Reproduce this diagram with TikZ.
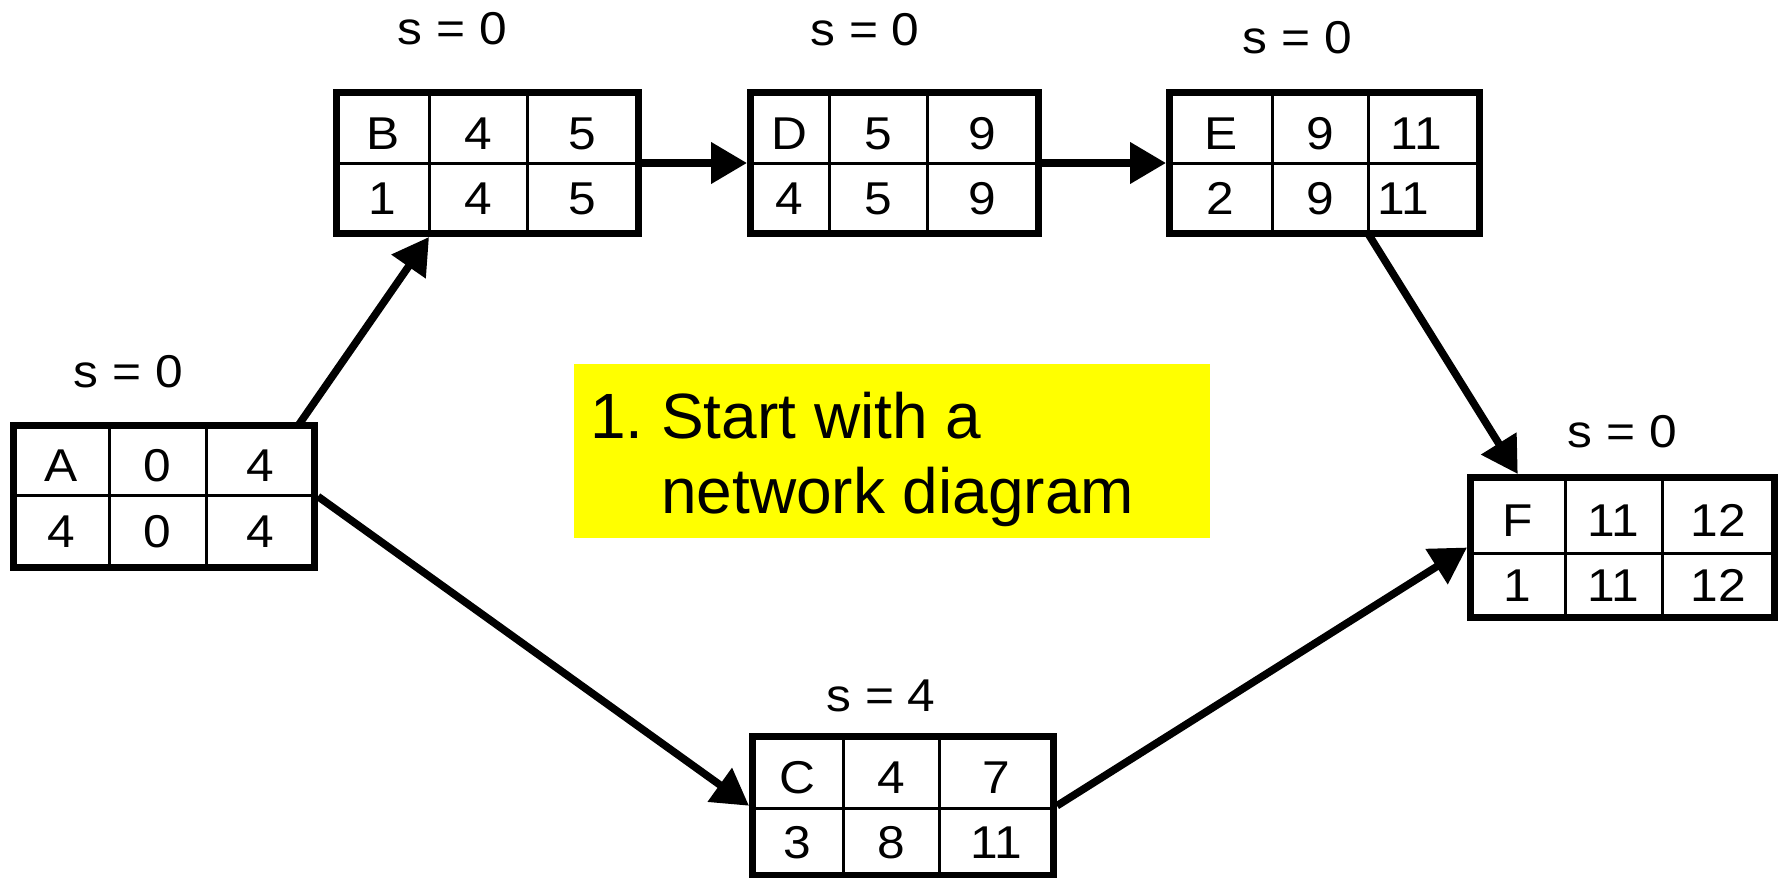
\documentclass[tikz,border=0pt]{standalone}
\usepackage{fontspec}
\setmainfont{Liberation Sans}
\newfontfamily\cellfont[FakeStretch=1.08]{Liberation Sans}
\usetikzlibrary{arrows.meta,positioning,fit}
\definecolor{noteyellow}{HTML}{FFFF00}

\newcommand{\taskbox}[9]{%
  \def\tn{#1}\def\xa{#2}\def\xb{#3}\def\xc{#4}\def\xd{#5}%
  \def\ya{#6}\def\yb{#7}\def\yc{#8}\taskcells#9}
\newcommand{\taskcells}[6]{%
  \pgfmathsetmacro\wa{(\xb-\xa)/2}\pgfmathsetmacro\wb{(\xc-\xb)/2}%
  \pgfmathsetmacro\wc{(\xd-\xc)/2}%
  \pgfmathsetmacro\ha{(\yb-\ya)/2}\pgfmathsetmacro\hb{(\yc-\yb)/2}%
  \node[cell,toprow,minimum width=\wa pt,minimum height=\ha pt] (\tn1) at ({(\xa+\xb)/2},{(\ya+\yb)/2}) {#1};
  \node[cell,toprow,minimum width=\wb pt,minimum height=\ha pt] (\tn2) at ({(\xb+\xc)/2},{(\ya+\yb)/2}) {#2};
  \node[cell,toprow,minimum width=\wc pt,minimum height=\ha pt] (\tn3) at ({(\xc+\xd)/2},{(\ya+\yb)/2}) {#3};
  \node[cell,minimum width=\wa pt,minimum height=\hb pt] (\tn4) at ({(\xa+\xb)/2},{(\yb+\yc)/2}) {#4};
  \node[cell,minimum width=\wb pt,minimum height=\hb pt] (\tn5) at ({(\xb+\xc)/2},{(\yb+\yc)/2}) {#5};
  \node[cell,minimum width=\wc pt,minimum height=\hb pt] (\tn6) at ({(\xc+\xd)/2},{(\yb+\yc)/2}) {#6};
  \node[frame,fit={(\xa,\ya)(\xd,\yc)}] (\tn) {};}

\begin{document}
\begin{tikzpicture}[x=0.5pt,y=-0.5pt,
  cell/.style={draw,line width=1.5pt,inner sep=0pt,outer sep=0pt,
               text height=16.5pt,text depth=0pt,
               font=\cellfont\fontsize{23}{27}\selectfont},
  toprow/.style={text height=21.5pt},
  frame/.style={draw,line width=3.5pt,inner sep=0pt},
  slack/.style={inner sep=0pt,font=\cellfont\fontsize{23}{27}\selectfont},
  arr/.style={-{Triangle[length=18pt,width=20pt]},line width=3.8pt},
  note/.style={fill=noteyellow,inner sep=0pt},
  notetext/.style={align=left,inner sep=0pt,font=\fontsize{32}{37.5}\selectfont}]
\useasboundingbox (0,0) rectangle (1785,878);
\taskbox{A}{13.5}{109}{206}{314.5}{425.5}{495}{567.5}{{A}{0}{4}{4}{0}{4}}
\taskbox{B}{336.5}{429}{527}{638.5}{92.5}{163}{233.5}{{B}{4}{5}{1}{4}{5}}
\taskbox{D}{750.5}{829}{927}{1038.5}{92.5}{163}{233.5}{{D}{5}{9}{4}{5}{9}}
\taskbox{E}{1169.5}{1272}{1368}{1479.5}{92.5}{163}{233.5}{{E}{9}{11\kern7pt}{2}{9}{11\kern20pt}}
\taskbox{F}{1470.5}{1565}{1662}{1774.5}{477.5}{553}{617.5}{{F}{11}{12}{1}{11}{12}}
\taskbox{C}{752.5}{843}{939}{1053.5}{736.5}{808}{875}{{C}{4}{7}{3}{8}{11}}
\node[slack] (sA) at (128.5,372) {s = 0};
\node[slack] (sB) at (452.5,29) {s = 0};
\node[slack] (sD) at (865,30) {s = 0};
\node[slack] (sE) at (1297.5,38) {s = 0};
\node[slack] (sF) at (1622.5,431.5) {s = 0};
\node[slack] (sC) at (881,696) {s = 4};
\draw[arr] ([xshift=19pt]A3.north) -- (B5.south west |- B.south);
\draw[arr] (B.east) -- (D.west);
\draw[arr] (D.east) -- (E.west);
\draw[arr] (E6.south west) -- (F1.north |- F.north);
\draw[arr] (A.east) -- (C.west);
\draw[arr] (C.east) -- (F.west);
\node[note,fit={(574,364)(1210,538)}] (note) {};
\node[notetext,anchor=north west] (notetext) at ([xshift=8pt,yshift=-14pt]note.north west)
  {1.\ Start with a\\\hphantom{1.\ }network diagram};
\end{tikzpicture}
\end{document}
